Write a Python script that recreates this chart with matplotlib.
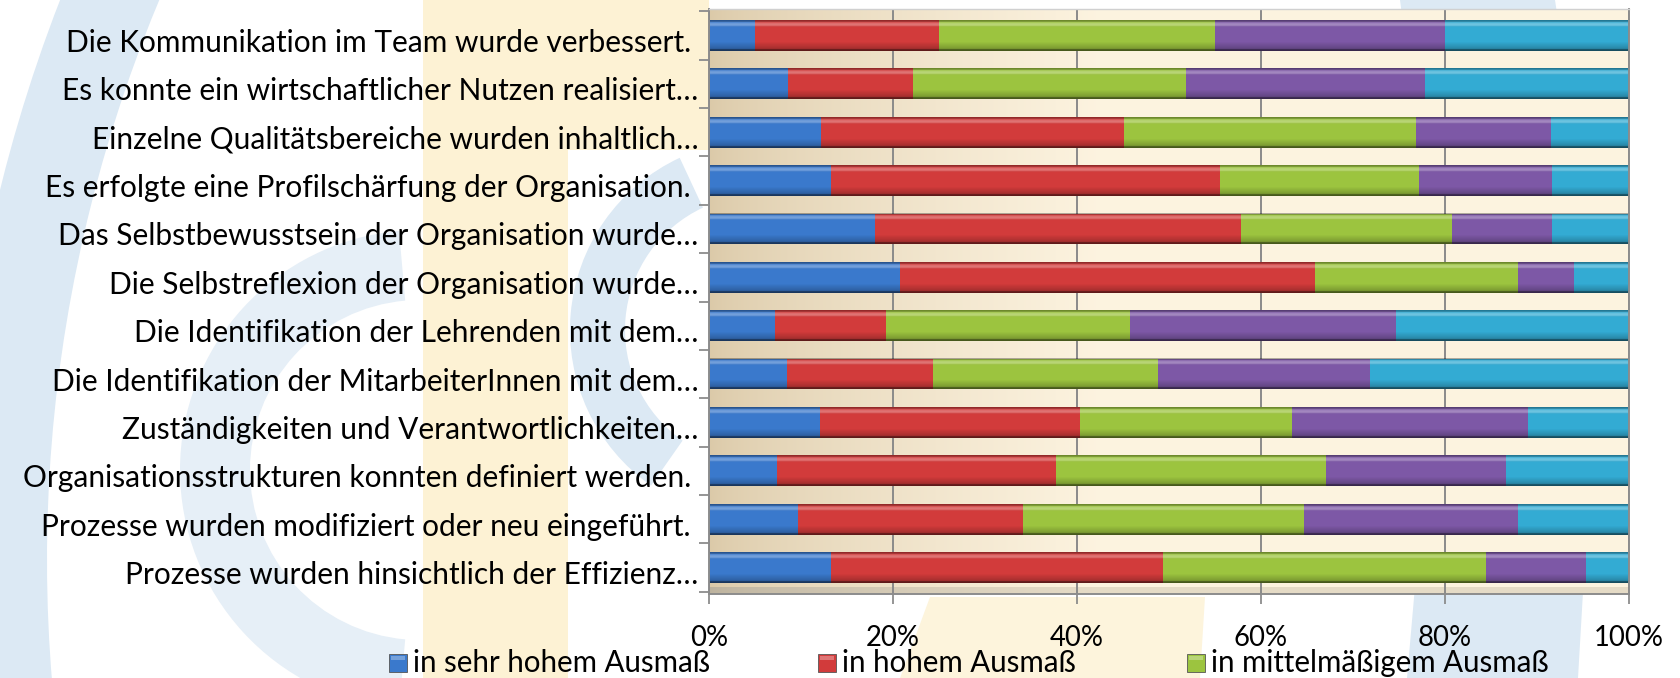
import numpy as np
import matplotlib
matplotlib.use("Agg")
import matplotlib.pyplot as plt
import matplotlib.transforms as mtransforms
from matplotlib.patches import Rectangle, Wedge, Polygon

# ---------------- data ----------------
categories = [
    "Die Kommunikation im Team wurde verbessert. ",
    "Es konnte ein wirtschaftlicher Nutzen realisiert…",
    "Einzelne Qualitätsbereiche wurden inhaltlich…",
    "Es erfolgte eine Profilschärfung der Organisation. ",
    "Das Selbstbewusstsein der Organisation wurde…",
    "Die Selbstreflexion der Organisation wurde…",
    "Die Identifikation der Lehrenden mit dem…",
    "Die Identifikation der MitarbeiterInnen mit dem…",
    "Zuständigkeiten und Verantwortlichkeiten…",
    "Organisationsstrukturen konnten definiert werden. ",
    "Prozesse wurden modifiziert oder neu eingeführt. ",
    "Prozesse wurden hinsichtlich der Effizienz…",
]
series_names = ["in sehr hohem Ausmaß", "in hohem Ausmaß", "in mittelmäßigem Ausmaß",
                "in geringem Ausmaß", "gar nicht"]
sehr_hoch   = [5.0, 8.6, 12.2, 13.3, 18.0, 20.8, 7.2, 8.5, 12.1, 7.4, 9.7, 13.3]
hoch        = [20.0, 13.6, 32.9, 42.2, 39.8, 45.1, 12.0, 15.9, 28.2, 30.3, 24.4, 36.1]
mittel      = [30.0, 29.7, 31.8, 21.7, 23.0, 22.0, 26.6, 24.4, 23.1, 29.4, 30.6, 35.1]
gering      = [25.0, 25.9, 14.6, 14.4, 10.8, 6.1, 28.9, 23.1, 25.6, 19.5, 23.2, 10.8]
sehr_gering = [20.0, 22.2, 8.5, 8.4, 8.4, 6.0, 25.3, 28.1, 11.0, 13.4, 12.1, 4.7]
xticks = [0, 20, 40, 60, 80, 100]
xticklabels = ["0%", "20%", "40%", "60%", "80%", "100%"]

series = [sehr_hoch, hoch, mittel, gering, sehr_gering]
colors = ["#3a79cc", "#d23b3b", "#9cc43f", "#7d58a6", "#33abd3"]
legend_shown = 3

FONT = "Lato"
W, H = 1681, 678
fig = plt.figure(figsize=(W / 100, H / 100), dpi=100)

# ---------------- watermark background ----------------
bg = fig.add_axes([0, 0, 1, 1], zorder=-10)
bg.set_xlim(0, W)
bg.set_ylim(H, 0)
bg.axis("off")
blue_wm = "#dce9f4"
yel_wm = "#fdf2d4"
bg.add_patch(Polygon([(423, 0), (709, 0), (709, 150), (568, 150), (568, H), (423, H)],
                     closed=True, facecolor=yel_wm, edgecolor="none"))
bg.add_patch(Polygon([(930, 597), (1205, 597), (1200, H), (900, H)],
                     closed=True, facecolor="#fdf4dc", edgecolor="none"))
bg.add_patch(Wedge((1500, 560), 1545, 168, 206, width=92, facecolor=blue_wm, edgecolor="none"))
bg.add_patch(Polygon([(1400, 0), (1555, 0), (1600, 300), (1578, H), (1407, H), (1440, 300)],
                     closed=True, facecolor=blue_wm, edgecolor="none"))
bg.add_patch(Wedge((760, 330), 190, 125, 245, width=55, facecolor=blue_wm, edgecolor="none"))
bg.add_patch(Wedge((420, 470), 240, 95, 265, width=70, facecolor="#e6eff7", edgecolor="none"))

# ---------------- main axes ----------------
L, R, T, B = 709, 1629, 9, 594
ax = fig.add_axes([L / W, (H - B) / H, (R - L) / W, (B - T) / H])
ymin, ymax = -0.55, 11.55
y = np.arange(len(categories))

# plot-area background gradient
gx = np.linspace(0, 1, 400)
tan = np.array([0.86, 0.79, 0.66])
cream = np.array([0.99, 0.953, 0.875])
w = np.clip(gx / 0.42, 0, 1) ** 0.7
grad = tan[None, :] * (1 - w[:, None]) + cream[None, :] * w[:, None]
ax.imshow(grad[None, :, :], extent=(0, 100, ymax, ymin), aspect="auto",
          zorder=0, interpolation="bilinear")
# floor band
floor = np.array([0.74, 0.70, 0.62])[None, :] * (1 - w[:, None]) + np.array([0.90, 0.86, 0.78])[None, :] * w[:, None]
ax.imshow(floor[None, :, :], extent=(0, 100, ymax, 11.42), aspect="auto",
          zorder=0.1, interpolation="bilinear")

# bars
h = 0.64
left = np.zeros(len(categories))
for vals, c in zip(series, colors):
    vals = np.asarray(vals)
    ax.barh(y, vals, left=left, height=h, color=c, edgecolor="none", zorder=2)
    left += vals

# glossy shading overlay on each bar row
n = 64
t = np.linspace(0, 1, n)
shade = np.zeros((n, 1, 4))
for i, tt in enumerate(t):
    if tt < 0.05:
        shade[i, 0] = [0, 0, 0, 0.30]
    elif tt < 0.22:
        a = 0.30 * np.sin(np.pi * (tt - 0.05) / 0.17)
        shade[i, 0] = [1, 1, 1, a]
    elif tt < 0.70:
        shade[i, 0] = [0, 0, 0, 0.0]
    elif tt < 0.94:
        shade[i, 0] = [0, 0, 0, 0.22 * (tt - 0.70) / 0.24]
    else:
        shade[i, 0] = [0, 0, 0, 0.55]
for yy, tot in zip(y, left):
    ax.imshow(shade, extent=(0, tot, yy + h / 2, yy - h / 2), aspect="auto",
              zorder=2.5, interpolation="bilinear")

ax.set_xlim(0, 100)
ax.set_ylim(ymax, ymin)

# grid / spines
ax.set_axisbelow(True)
ax.grid(axis="x", color="#8a8a8a", linewidth=1.4, zorder=0.5)
for s in ["left", "bottom", "right"]:
    ax.spines[s].set_color("#8c8c8c")
    ax.spines[s].set_linewidth(1.4)
ax.spines["top"].set_color("#d0d0d0")
ax.spines["top"].set_linewidth(1.0)

# measure font sizes to match reference widths
renderer = fig.canvas.get_renderer()
def fit_size(text, target_px, base=20.0):
    tx = fig.text(0, 0, text, fontsize=base, family=FONT)
    wpx = tx.get_window_extent(renderer=renderer).width
    tx.remove()
    return base * target_px / wpx

fs_lab = fit_size("Die Kommunikation im Team wurde verbessert.", 627)
fs_tick = fit_size("100%", 70)
fs_leg = fit_size("in sehr hohem Ausmaß", 298)

ax.set_yticks(y)
ax.set_yticklabels(categories, fontsize=fs_lab, family=FONT, color="#000000")
ax.set_yticks(np.arange(len(categories) + 1) - 0.5, minor=True)
ax.tick_params(axis="y", which="major", length=0, pad=7.5)
ax.tick_params(axis="y", which="minor", length=7, width=1.3, color="#8c8c8c", direction="out")
shift = mtransforms.ScaledTranslation(0, -5 / 100, fig.dpi_scale_trans)
for lab in ax.get_yticklabels():
    lab.set_transform(lab.get_transform() + shift)
ax.set_xticks(xticks)
ax.set_xticklabels(xticklabels, fontsize=fs_tick, family=FONT, color="#000000")
ax.tick_params(axis="x", which="major", length=7, width=1.3, color="#8c8c8c",
               direction="out", pad=15)

# legend (only the first row is visible in the reference)
leg_x = [389, 818, 1187]
leg_y = 663
sq = 18
for i in range(legend_shown):
    x0 = leg_x[i]
    bg.add_patch(Rectangle((x0, leg_y - sq / 2), sq, sq, facecolor=colors[i],
                           edgecolor="#555555", linewidth=0.6))
    bg.add_patch(Rectangle((x0 + 2, leg_y - sq / 2 + 2), sq - 4, 4, facecolor="white",
                           alpha=0.3, edgecolor="none"))
    bg.text(x0 + sq + 6, leg_y, series_names[i], fontsize=fs_leg, family=FONT,
            va="center", ha="left", color="#000000")

fig.savefig("out.png", dpi=100)
